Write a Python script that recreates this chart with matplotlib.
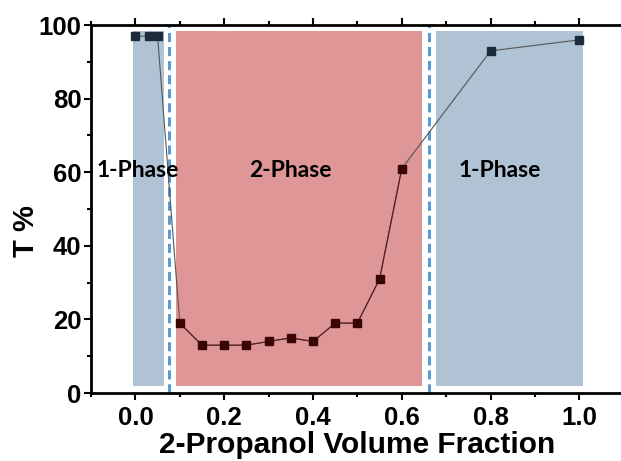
import matplotlib.pyplot as plt
import matplotlib.patheffects as pe
from matplotlib.ticker import MultipleLocator

# data
frac = [0.0, 0.03, 0.05, 0.1, 0.15, 0.2, 0.25, 0.3, 0.35, 0.4, 0.45, 0.5, 0.55, 0.6, 0.8, 1.0]
trans = [97, 97, 97, 19, 13, 13, 13, 14, 15, 14, 19, 19, 31, 61, 93, 96]
two_phase = [False, False, False] + [True] * 11 + [False, False]

# phase regions (x start, x end) and boundaries
one_phase_left = (-0.005, 0.064)
two_phase_band = (0.092, 0.645)
one_phase_right = (0.677, 1.009)
boundaries = [0.076, 0.661]

fig = plt.figure(figsize=(6.21, 4.61), dpi=100)
ax = fig.add_axes([0.1465, 0.1475, 0.858, 0.798])

blue = '#b0c3d5'
red = '#de9697'
for x0, x1 in [one_phase_left, one_phase_right]:
    ax.axvspan(x0, x1, ymin=0.018, ymax=0.983, color=blue, lw=0, zorder=0)
ax.axvspan(two_phase_band[0], two_phase_band[1], ymin=0.018, ymax=0.983, color=red, lw=0, zorder=0)

for b in boundaries:
    ax.axvline(b, color='#5b9bd5', lw=2.2, ls=(0, (3, 1.6)), zorder=1,
               path_effects=[pe.Stroke(linewidth=5, foreground='white'), pe.Normal()])

ax.plot(frac, trans, color='#555555', lw=0.8, zorder=2)
xr = [f for f, t in zip(frac, two_phase) if t]
yr = [v for v, t in zip(trans, two_phase) if t]
ax.plot(xr, yr, color='#5a1a1a', lw=0.8, zorder=2)
xb = [f for f, t in zip(frac, two_phase) if not t]
yb = [v for v, t in zip(trans, two_phase) if not t]
ax.plot(xb, yb, ls='none', marker='s', ms=5.3, color='#1c2a3a', zorder=3)
ax.plot(xr, yr, ls='none', marker='s', ms=5.3, color='#3a0505', zorder=3)

lab_font = dict(family='Lato', fontweight='bold', fontsize=16.5)
ax.text(0.005, 60.5, '1-Phase', ha='center', va='center', **lab_font)
ax.text(0.35, 60.5, '2-Phase', ha='center', va='center', **lab_font)
ax.text(0.82, 60.5, '1-Phase', ha='center', va='center', **lab_font)

ax.set_xlim(-0.1, 1.1)
ax.set_ylim(0, 100)
ax.xaxis.set_minor_locator(MultipleLocator(0.1))
ax.yaxis.set_major_locator(MultipleLocator(20))
ax.yaxis.set_minor_locator(MultipleLocator(10))
ax.set_xticks([0.0, 0.2, 0.4, 0.6, 0.8, 1.0])
ax.set_xticklabels(['0.0', '0.2', '0.4', '0.6', '0.8', '1.0'])

for s in ax.spines.values():
    s.set_linewidth(2)
ax.tick_params(which='major', direction='out', length=5, width=1.5, labelsize=18.5, pad=2)
ax.tick_params(axis='x', which='major', pad=4)
ax.tick_params(which='minor', direction='out', length=3, width=1.5)
ax.tick_params(which='both', right=True, top=True)
for t in ax.get_xticklabels() + ax.get_yticklabels():
    t.set_family('Liberation Sans')
    t.set_fontweight('bold')

ax.set_xlabel('2-Propanol Volume Fraction', family='Liberation Sans', fontweight='bold',
              fontsize=21.5)
ax.xaxis.set_label_coords(0.5, -0.103)
ax.set_ylabel('T %', family='Liberation Sans', fontweight='bold', fontsize=21)
ax.yaxis.set_label_coords(-0.095, 0.44)

fig.savefig('out.png', dpi=100)
